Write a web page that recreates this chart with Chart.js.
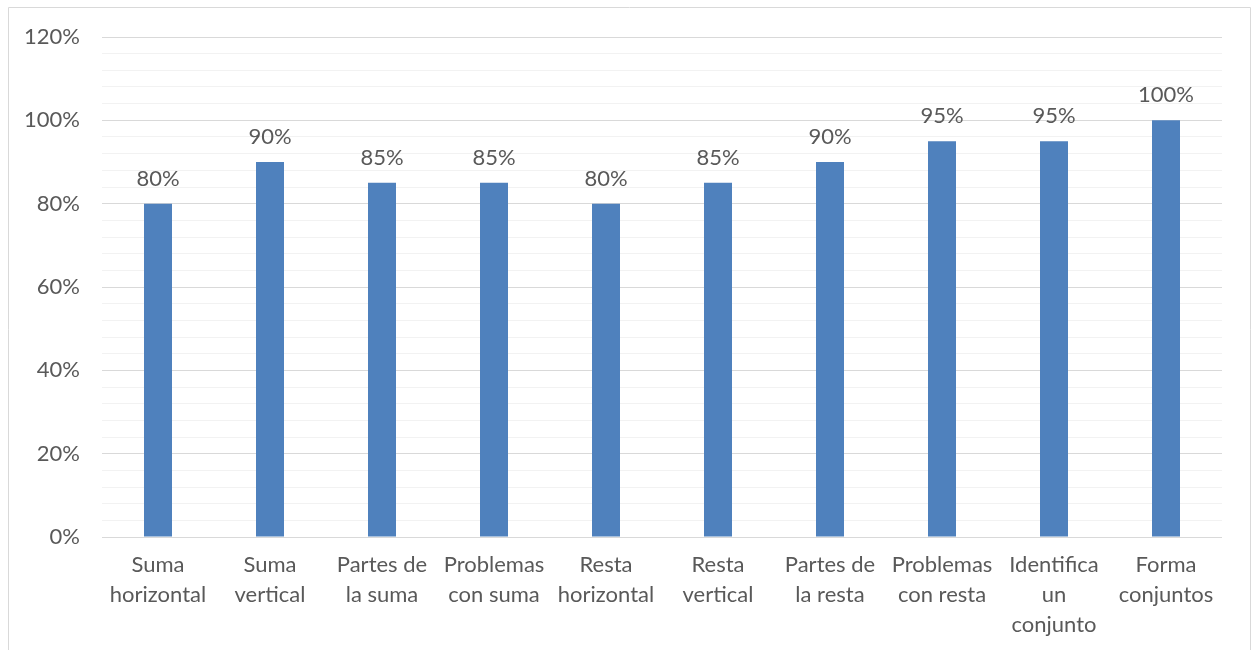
<!DOCTYPE html>
<html>
<head>
<meta charset="utf-8">
<script src="https://cdn.jsdelivr.net/npm/chart.js@4/dist/chart.umd.min.js"></script>
<style>
  html, body { margin: 0; padding: 0; background: #fff; overflow: hidden; }
  #wrap { width: 1256px; height: 650px; }
</style>
</head>
<body>
<div id="wrap"><canvas id="myChart" width="1256" height="650"></canvas></div>
<script>
// datos
var categorias = [
    ["Suma", "horizontal"],
    ["Suma", "vertical"],
    ["Partes de", "la suma"],
    ["Problemas", "con suma"],
    ["Resta", "horizontal"],
    ["Resta", "vertical"],
    ["Partes de", "la resta"],
    ["Problemas", "con resta"],
    ["Identifica", "un", "conjunto"],
    ["Forma", "conjuntos"]
];
var porcentajes = [80, 90, 85, 85, 80, 85, 90, 95, 95, 100];
var ejeMin = 0;
var ejeMax = 120;
var pasoMenor = 4;
var pasoMayor = 20;

var fuente = "Lato, 'Open Sans', sans-serif";
var gris = "#595959";

// marco del grafico
var marco = {
    id: "marco",
    afterDraw: function (chart) {
        var ctx = chart.ctx;
        ctx.save();
        ctx.strokeStyle = "#d9d9d9";
        ctx.lineWidth = 1;
        ctx.beginPath();
        ctx.moveTo(8.5, 700);
        ctx.lineTo(8.5, 7.5);
        ctx.lineTo(1250.5, 7.5);
        ctx.lineTo(1250.5, 700);
        ctx.stroke();
        ctx.restore();
    }
};

// etiquetas encima de las barras
var etiquetas = {
    id: "etiquetas",
    afterDatasetsDraw: function (chart) {
        var ctx = chart.ctx;
        var meta = chart.getDatasetMeta(0);
        ctx.save();
        ctx.fillStyle = gris;
        ctx.font = "22px " + fuente;
        ctx.textAlign = "center";
        ctx.textBaseline = "alphabetic";
        meta.data.forEach(function (bar, i) {
            ctx.fillText(porcentajes[i] + "%", bar.x, bar.y - 18);
        });
        ctx.restore();
    }
};

var canvas = document.getElementById("myChart");
var myChart = new Chart(canvas, {
    type: "bar",
    data: {
        labels: categorias,
        datasets: [{
            data: porcentajes,
            backgroundColor: "#4f81bd",
            borderWidth: 0,
            barPercentage: 0.25,
            categoryPercentage: 1
        }]
    },
    options: {
        responsive: false,
        animation: false,
        layout: { padding: { top: 37, right: 34, left: 0, bottom: 0 } },
        plugins: {
            legend: { display: false },
            tooltip: { enabled: false }
        },
        scales: {
            x: {
                grid: { display: false, drawTicks: false },
                border: { display: false },
                ticks: {
                    color: gris,
                    font: { family: fuente, size: 22, lineHeight: "30px" },
                    padding: 13,
                    maxRotation: 0,
                    autoSkip: false
                },
                afterFit: function (scale) { scale.height = 113; }
            },
            y: {
                min: ejeMin,
                max: ejeMax,
                grid: {
                    drawTicks: false,
                    color: function (c) {
                        return c.tick && c.tick.value % pasoMayor === 0 ? "#d9d9d9" : "#f2f2f2";
                    }
                },
                border: { display: false },
                ticks: {
                    stepSize: pasoMenor,
                    autoSkip: false,
                    color: gris,
                    padding: 22,
                    font: { family: fuente, size: 22 },
                    callback: function (v) {
                        return v % pasoMayor === 0 ? v + "%" : "";
                    }
                },
                afterFit: function (scale) { scale.width = 102; }
            }
        }
    },
    plugins: [marco, etiquetas]
});
</script>
</body>
</html>
